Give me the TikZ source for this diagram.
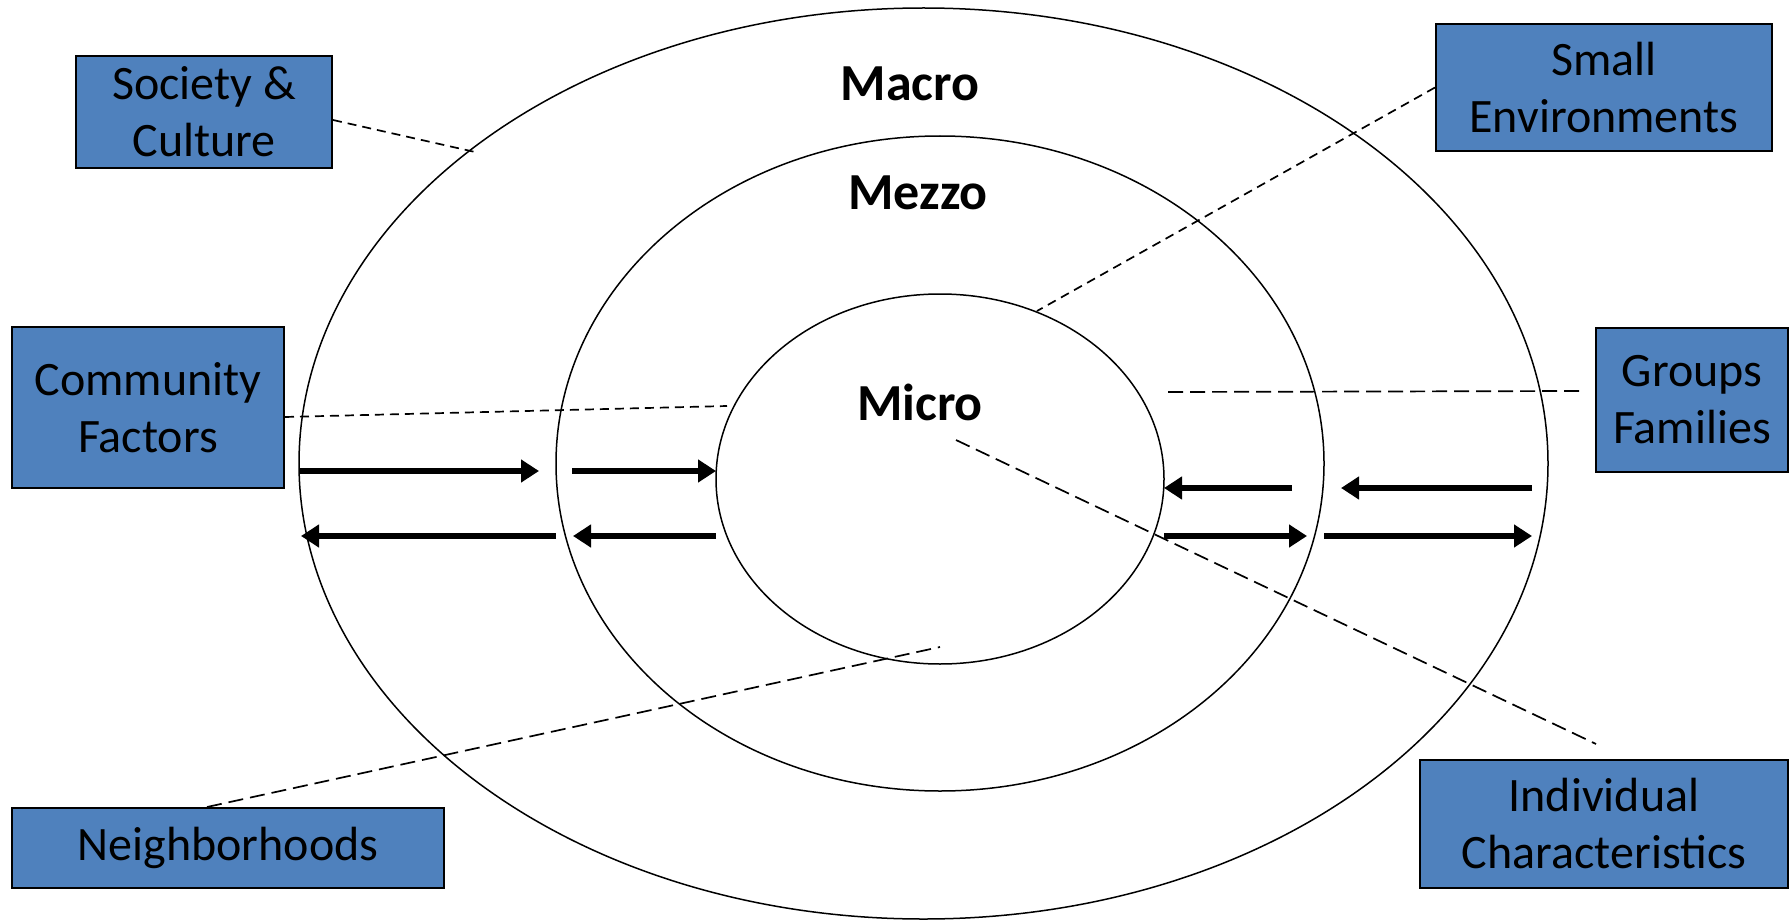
\documentclass[tikz,border=0pt]{standalone}
\usepackage{fontspec}
\setmainfont{Carlito}
\usetikzlibrary{arrows.meta}
\definecolor{boxblue}{RGB}{79,129,189}
\tikzset{
  box/.style={draw=black, line width=2pt, fill=boxblue, align=center, inner sep=0pt,
    font=\fontsize{48}{57}\selectfont},
  ring/.style={draw=black, line width=1.5pt},
  lvl/.style={anchor=base, font=\bfseries\fontsize{52}{60}\selectfont},
  shortdash/.style={line width=1.7pt, dash pattern=on 9pt off 6pt},
  longdash/.style={line width=1.7pt, dash pattern=on 15pt off 7pt},
  arr/.style={line width=6pt, -{Triangle[length=18pt,width=22pt]}}
}
\begin{document}
\begin{tikzpicture}[x=1pt,y=-1pt]
\useasboundingbox (0,0) rectangle (1790,920);
% rings
\draw[ring] (923.5,463.5) ellipse [x radius=624.5pt, y radius=455.5pt];
\draw[ring] (940,463.5) ellipse [x radius=384pt, y radius=327.5pt];
\draw[ring] (940,479) ellipse [x radius=224pt, y radius=185pt];
% level labels
\node[lvl] (macro) at (910,101) {Macro};
\node[lvl] (mezzo) at (918,209) {Mezzo};
\node[lvl] (micro) at (920,420) {Micro};
% boxes
\node[box, minimum width=256pt, minimum height=112pt] (soc) at (204,112) {Society \&\\Culture};
\node[box, minimum width=336pt, minimum height=127pt] (small) at (1604,87.5) {Small\\Environments};
\node[box, minimum width=272pt, minimum height=161pt] (comm) at (148,407.5) {Community\\Factors};
\node[box, minimum width=192pt, minimum height=144pt] (groups) at (1692,400) {Groups\\Families};
\node[box, minimum width=432pt, minimum height=80pt] (neigh) at (228,848) {Neighborhoods};
\node[box, minimum width=368pt, minimum height=128pt] (indiv) at (1604,824) {Individual\\Characteristics};
% connector end points
\coordinate (socE) at (475,152);
\coordinate (smallE) at (1037,311);
\coordinate (commE) at (727,406);
\coordinate (groupsS) at (1579,391);
\coordinate (groupsE) at (1168,392);
\coordinate (indivS) at (956,440);
\coordinate (indivE) at (1596,744);
\coordinate (neighE) at (940,647);
% dashed connectors
\draw[shortdash] ([yshift=-8pt]soc.east) -- (socE);
\draw[shortdash] (small.west) -- (smallE);
\draw[shortdash] ([yshift=-9.5pt]comm.east) -- (commE);
\draw[longdash] (groupsS) -- (groupsE);
\draw[longdash] (indivS) -- (indivE);
\draw[longdash] ([xshift=-21pt]neigh.north) -- (neighE);
% arrow end points
\coordinate (l1a) at (300,471); \coordinate (l1b) at (539,471);
\coordinate (l2a) at (572,471); \coordinate (l2b) at (716,471);
\coordinate (l3a) at (556,536); \coordinate (l3b) at (301,536);
\coordinate (l4a) at (716,536); \coordinate (l4b) at (573,536);
\coordinate (r1a) at (1292,488); \coordinate (r1b) at (1164,488);
\coordinate (r2a) at (1532,488); \coordinate (r2b) at (1341,488);
\coordinate (r3a) at (1164,536); \coordinate (r3b) at (1307,536);
\coordinate (r4a) at (1324,536); \coordinate (r4b) at (1532,536);
\draw[arr] (l1a) -- (l1b);
\draw[arr] (l2a) -- (l2b);
\draw[arr] (l3a) -- (l3b);
\draw[arr] (l4a) -- (l4b);
\draw[arr] (r1a) -- (r1b);
\draw[arr] (r2a) -- (r2b);
\draw[arr] (r3a) -- (r3b);
\draw[arr] (r4a) -- (r4b);
\end{tikzpicture}
\end{document}
